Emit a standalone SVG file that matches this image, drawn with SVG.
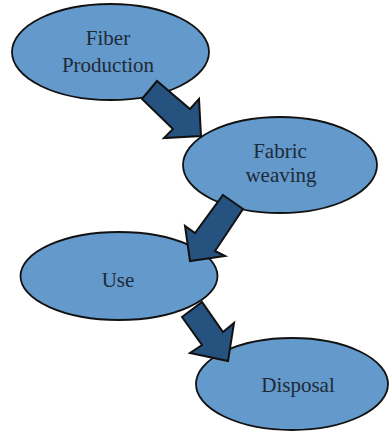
<svg xmlns="http://www.w3.org/2000/svg" width="389" height="433" viewBox="0 0 389 433">
  <style>
    .node ellipse { fill: #6399cb; stroke: #111; stroke-width: 1.8; }
    .node text { font-family: "Liberation Serif", "Times New Roman", serif; font-size: 21px; fill: #1e2a36; text-anchor: middle; }
    .arrow { fill: #26527f; stroke: #111; stroke-width: 2; stroke-linejoin: miter; }
  </style>
  <rect width="389" height="433" fill="#ffffff"/>

  <g id="fiber-production" class="node">
    <ellipse cx="110.5" cy="52" rx="98.5" ry="48"/>
    <text x="108" y="45">Fiber</text>
    <text x="108" y="72">Production</text>
  </g>

  <g id="fabric-weaving" class="node">
    <ellipse cx="280" cy="165" rx="97" ry="48"/>
    <text x="280" y="158">Fabric</text>
    <text x="281" y="182">weaving</text>
  </g>

  <g id="use" class="node">
    <ellipse cx="119" cy="276" rx="98.5" ry="44"/>
    <text x="118" y="287">Use</text>
  </g>

  <g id="disposal" class="node">
    <ellipse cx="292" cy="384" rx="96" ry="46"/>
    <text x="298" y="392">Disposal</text>
  </g>

  <g id="connectors">
    <polygon class="arrow" points="142,99 157,81 190,109 199,99 201,136 164,138 173,129"/>
    <polygon class="arrow" points="223,195 243,209 215,251 225,256 190,261 185,226 195,233"/>
    <polygon class="arrow" points="182,317 202,302 223,332 234,323 228,361 190,353 202,345"/>
  </g>
</svg>
